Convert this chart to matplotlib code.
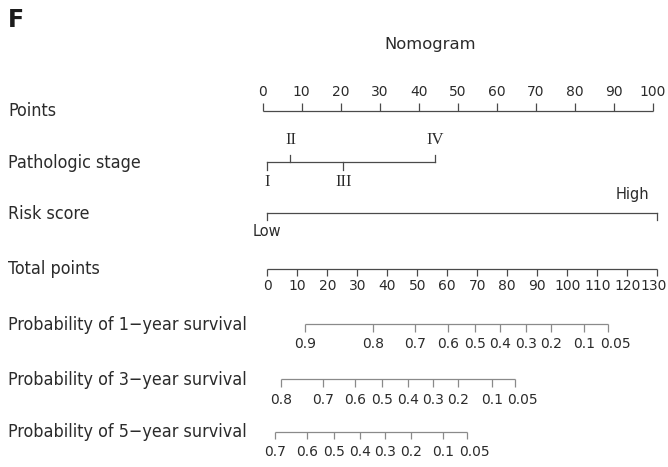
import matplotlib
matplotlib.use("Agg")
import matplotlib.pyplot as plt
from matplotlib import font_manager
from matplotlib.transforms import blended_transform_factory

# ---- data ----
points_ticks = [0, 10, 20, 30, 40, 50, 60, 70, 80, 90, 100]

stage_labels = ["I", "II", "III", "IV"]
stage_total = [0, 7.7, 25.3, 55.8]          # position on the total-points scale
stage_side = ["down", "up", "down", "up"]

risk_labels = ["Low", "High"]
risk_total = [0, 130]

total_ticks = [0, 10, 20, 30, 40, 50, 60, 70, 80, 90, 100, 110, 120, 130]

surv1_labels = ["0.9", "0.8", "0.7", "0.6", "0.5", "0.4", "0.3", "0.2", "0.1", "0.05"]
surv1_total = [12.6, 35.2, 49.3, 60.2, 69.2, 77.7, 86.1, 94.6, 105.7, 113.6]

surv3_labels = ["0.8", "0.7", "0.6", "0.5", "0.4", "0.3", "0.2", "0.1", "0.05"]
surv3_total = [4.5, 18.5, 29.3, 38.2, 46.8, 55.1, 63.7, 74.9, 82.7]

surv5_labels = ["0.7", "0.6", "0.5", "0.4", "0.3", "0.2", "0.1", "0.05"]
surv5_total = [2.6, 13.3, 22.3, 30.9, 39.3, 47.9, 58.7, 66.6]

row_names = ["Points", "Pathologic stage", "Risk score", "Total points",
             "Probability of 1\u2212year survival",
             "Probability of 3\u2212year survival",
             "Probability of 5\u2212year survival"]

# ---- layout ----
W, H = 668, 467
X0 = 267.3        # pixel of total points = 0
PX = 3.0          # pixels per total point
POINTS_SCALE = 1.3
POINTS_SHIFT = -4.6 / PX
row_y = [110.7, 162, 213.3, 268.5, 324, 379.3, 431.7]

dark = "#4a4a4a"
light = "#8a8a8a"
txt = "#2b2b2b"

plt.rcParams['font.family'] = ['DejaVu Sans']

# narrower face for the row names if the condensed DejaVu is around
cond = font_manager.FontProperties(family="DejaVu Sans", stretch="condensed")
cond_file = font_manager.findfont(cond, fallback_to_default=True)
if "Condensed" in cond_file:
    name_font = font_manager.FontProperties(fname=cond_file, size=12.9)
else:
    name_font = font_manager.FontProperties(family="DejaVu Sans", size=11.6)

fig = plt.figure(figsize=(W / 100, H / 100), dpi=100)
ax = fig.add_axes([0, 0, 1, 1])
ax.set_xlim(-X0 / PX, (W - X0) / PX)
ax.set_ylim(H, 0)
ax.axis("off")
lab_tr = blended_transform_factory(ax.transAxes, ax.transData)


def scale(y, xs, labels, color, side="down", tick=7.5, gap=4, size=10, nudge=None):
    ax.plot([min(xs), max(xs)], [y, y], color=color, lw=0.9, solid_capstyle="butt")
    for x, lab in zip(xs, labels):
        d = tick if side == "down" else -tick
        ax.plot([x, x], [y, y + d], color=color, lw=0.9, solid_capstyle="butt")
        dx = nudge.get(lab, 0) / PX if nudge else 0
        if side == "down":
            ax.text(x + dx, y + tick + gap, lab, ha="center", va="top",
                    fontsize=size, color=txt)
        else:
            ax.text(x + dx, y - tick - gap, lab, ha="center", va="bottom",
                    fontsize=size, color=txt)


for name, y in zip(row_names, row_y):
    ax.text(8 / W, y + 5.5, name, transform=lab_tr, ha="left", va="baseline",
            fontproperties=name_font, color=txt)

ax.text(8 / W, 27, "F", transform=lab_tr, ha="left", va="baseline",
        fontsize=17, fontweight="bold", color="#1c1c1c")
ax.text((430 - X0) / PX, 49, "Nomogram", ha="center", va="baseline",
        fontsize=11.8, color=txt)

# points
pts_x = [p * POINTS_SCALE + POINTS_SHIFT for p in points_ticks]
scale(row_y[0], pts_x, [str(p) for p in points_ticks], dark, side="up", tick=8, gap=4)

# pathologic stage
y = row_y[1]
ax.plot([min(stage_total), max(stage_total)], [y, y], color=dark, lw=0.9)
for x, lab, s in zip(stage_total, stage_labels, stage_side):
    d = 7.5 if s == "down" else -7.5
    ax.plot([x, x], [y, y + d], color=dark, lw=0.9)
    ax.text(x, y + (20 if s == "down" else -22), lab, ha="center", va="center",
            fontsize=12, color=txt, family="Liberation Serif")

# risk score
y = row_y[2]
ax.plot(risk_total, [y, y], color=dark, lw=0.9)
for x in risk_total:
    ax.plot([x, x], [y, y + 7], color=dark, lw=0.9)
ax.text(risk_total[0], y + 18.5, risk_labels[0], ha="center", va="center",
        fontsize=10.5, color=txt)
ax.text(risk_total[1] - 25 / PX, y - 19, risk_labels[1], ha="center", va="center",
        fontsize=10.5, color=txt)

# total points
scale(row_y[3], total_ticks, [str(t) for t in total_ticks], dark, side="down",
      tick=7, gap=4, nudge={"130": -4})

# survival probabilities
nud = {"0.05": 7}
scale(row_y[4], surv1_total, surv1_labels, light, tick=7.5, gap=6, nudge=nud)
scale(row_y[5], surv3_total, surv3_labels, light, tick=7.5, gap=6, nudge=nud)
scale(row_y[6], surv5_total, surv5_labels, light, tick=7, gap=6, nudge=nud)

fig.savefig("out.png", dpi=100)
